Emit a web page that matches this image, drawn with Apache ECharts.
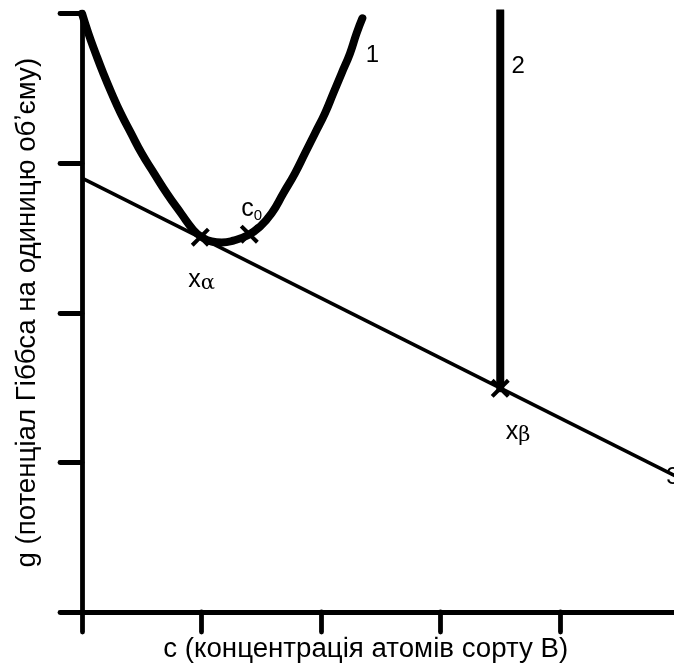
<!DOCTYPE html>
<html>
<head>
<meta charset="utf-8">
<script src="https://cdn.jsdelivr.net/npm/echarts@6/dist/echarts.min.js"></script>
<style>
  html, body { margin: 0; padding: 0; background: #fff; }
  #chart { width: 674px; height: 663px; }
</style>
</head>
<body>
<div id="chart"></div>
<script>
// curve 1 (g of the alpha phase)
const curve1X = [0, 0.053, 0.114, 0.178, 0.248, 0.324, 0.410, 0.499, 0.603, 0.709, 0.828, 0.932, 0.996, 1.085,
    1.169, 1.266, 1.392, 1.490, 1.587, 1.685, 1.782, 1.866, 1.950, 2.033, 2.103, 2.173, 2.243, 2.298, 2.346];
const curve1Y = [4.0, 3.868, 3.734, 3.601, 3.467, 3.333, 3.200, 3.066, 2.932, 2.799, 2.665, 2.553, 2.509, 2.476,
    2.469, 2.482, 2.520, 2.576, 2.665, 2.799, 2.932, 3.066, 3.200, 3.333, 3.467, 3.601, 3.734, 3.868, 3.968];

// common tangent (3) and the line compound (2)
const tangentX = [0, 5];
const tangentY = [2.90, 0.895];
const line2X = [3.5, 3.5];
const line2Y = [4.02, 1.495];

// crosses: x_alpha, c0, x_beta
const crossX = [0.99, 1.40, 3.5];
const crossY = [2.505, 2.525, 1.495];

// text marks
const noteText = ['1', '2', '3', '{m|c}{s|0}', '{m|x}{g|α}', '{m|x}{g|β}'];
const noteX = [2.43, 3.65, 4.945, 1.42, 1.0, 3.65];
const noteY = [3.72, 3.645, 0.90, 2.69, 2.22, 1.20];

const xTicks = [0, 1, 2, 3, 4, 5];
const yTicks = [0, 1, 2, 3, 4];

const zip = (xs, ys) => xs.map((x, i) => [x, ys[i]]);

const crossPath = 'path://M0,3 L3,0 L10,7 L17,0 L20,3 L13,10 L20,17 L17,20 L10,13 L3,20 L0,17 L7,10 Z';
const font = 'Liberation Sans, Arial, sans-serif';

const chart = echarts.init(document.getElementById('chart'));

const axisStyle = { color: '#000', width: 4.8 };

chart.setOption({
    backgroundColor: '#fff',
    animation: false,
    grid: {
        left: 82,
        top: 13.5,
        width: 597.5,
        height: 598.5,
        outerBoundsMode: 'none',
        containLabel: false
    },
    xAxis: {
        type: 'value',
        min: xTicks[0],
        max: xTicks[xTicks.length - 1],
        interval: 1,
        name: 'c (концентрація атомів сорту B)',
        nameLocation: 'middle',
        nameGap: 23,
        nameTextStyle: {
            color: '#000',
            fontSize: 27.7,
            fontFamily: font,
            padding: [0, 30, 0, 0]
        },
        axisLine: { onZero: false, lineStyle: axisStyle },
        axisTick: { show: true, length: 20, lineStyle: { color: '#000', width: 4.8, cap: 'round' } },
        axisLabel: { show: false },
        splitLine: { show: false }
    },
    yAxis: {
        type: 'value',
        min: yTicks[0],
        max: yTicks[yTicks.length - 1],
        interval: 1,
        name: 'g (потенціал Гіббса на одиницю обʼєму)',
        nameLocation: 'middle',
        nameGap: 41,
        nameRotate: 90,
        nameTextStyle: {
            color: '#000',
            fontSize: 27.7,
            fontFamily: font
        },
        axisLine: { onZero: false, lineStyle: axisStyle },
        axisTick: { show: true, length: 22, lineStyle: { color: '#000', width: 4.8, cap: 'round' } },
        axisLabel: { show: false },
        splitLine: { show: false }
    },
    series: [
        {
            type: 'line',
            data: zip(tangentX, tangentY),
            showSymbol: false,
            lineStyle: { color: '#000', width: 3.5 },
            z: 2
        },
        {
            type: 'line',
            data: zip(curve1X, curve1Y),
            showSymbol: false,
            smooth: true,
            lineStyle: { color: '#000', width: 8, cap: 'round', join: 'round' },
            z: 3
        },
        {
            type: 'line',
            data: zip(line2X, line2Y),
            showSymbol: false,
            lineStyle: { color: '#000', width: 8, cap: 'round' },
            z: 3
        },
        {
            type: 'scatter',
            data: zip(crossX, crossY),
            symbol: crossPath,
            symbolSize: 19,
            itemStyle: { color: '#000', opacity: 1 },
            z: 4
        },
        {
            type: 'scatter',
            data: noteText.map((t, i) => ({ value: [noteX[i], noteY[i]], name: t })),
            symbolSize: 0,
            itemStyle: { opacity: 1 },
            z: 5,
            label: {
                show: true,
                position: 'inside',
                formatter: p => p.name,
                color: '#000',
                opacity: 1,
                fontSize: 24,
                fontFamily: font,
                rich: {
                    m: { fontSize: 25, lineHeight: 28, color: '#000', fontFamily: font },
                    s: { fontSize: 15, verticalAlign: 'bottom', color: '#000', fontFamily: font },
                    g: { fontSize: 21, verticalAlign: 'bottom', color: '#000', fontFamily: 'DejaVu Serif, serif' }
                }
            }
        }
    ]
});
</script>
</body>
</html>
